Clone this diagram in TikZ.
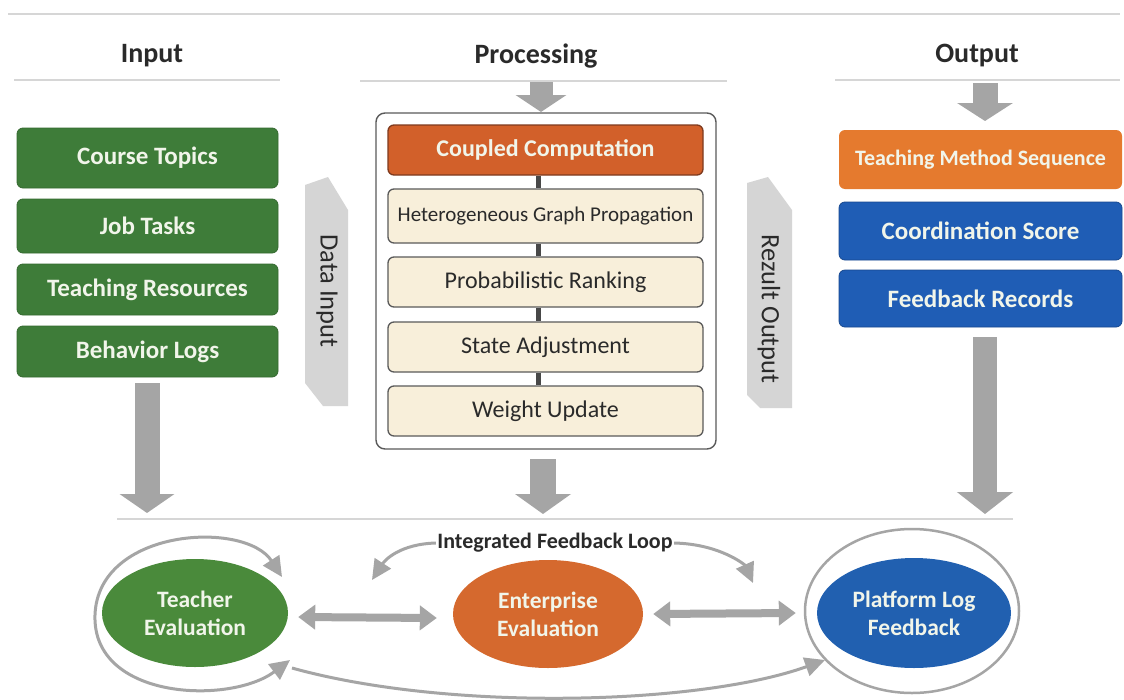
\documentclass[tikz,border=0pt]{standalone}
\usepackage{fontspec}
\setmainfont{Carlito}
\usetikzlibrary{arrows.meta,shapes.geometric}
\definecolor{grnbox}{HTML}{3E7C39}
\definecolor{grnell}{HTML}{4A8A3B}
\definecolor{orgbox}{HTML}{E57A2E}
\definecolor{ccbox}{HTML}{D2602A}
\definecolor{ccline}{HTML}{7E3A1E}
\definecolor{bluebox}{HTML}{1F5DB5}
\definecolor{blueline}{HTML}{17488F}
\definecolor{entell}{HTML}{D5692E}
\definecolor{platell}{HTML}{2160B0}
\definecolor{cream}{HTML}{F8EFDA}
\definecolor{boxline}{HTML}{5A5A5A}
\definecolor{arrowgray}{HTML}{A5A5A5}
\definecolor{bandgray}{HTML}{D5D5D5}
\definecolor{rulegray}{HTML}{D6D6D6}
\definecolor{textdark}{HTML}{2A2A2A}
\definecolor{lighttext}{HTML}{F1F5EA}
\begin{document}
\begin{tikzpicture}[x=1pt,y=-1pt,
  header/.style={font=\bfseries\fontsize{28}{32}\selectfont, text=textdark},
  rule/.style={draw=rulegray, line width=1.3pt},
  greenbox/.style={rounded corners=6pt, fill=grnbox, draw=grnbox!85!black, line width=0.8pt,
     minimum width=261pt, text=lighttext, font=\bfseries\fontsize{25}{29}\selectfont},
  procbox/.style={rounded corners=6pt, fill=cream, draw=boxline, line width=1.3pt,
     minimum width=315pt, minimum height=50pt, text=textdark, font=\fontsize{24}{28}\selectfont},
  outbox/.style={rounded corners=6pt, minimum width=283pt, text=lighttext,
     font=\bfseries\fontsize{25}{29}\selectfont},
  band/.style={fill=bandgray},
  bandtext/.style={rotate=-90, text=textdark, font=\fontsize{26.5}{30}\selectfont},
  link/.style={draw=boxline!80!black, line width=5pt},
  evalell/.style={ellipse, text=lighttext, align=center, font=\bfseries\fontsize{23.5}{28}\selectfont},
  loopline/.style={draw=arrowgray, line width=3pt, -{Triangle[width=19pt,length=20pt]}},
  dblarrow/.style={draw=arrowgray, line width=8pt,
     {Triangle[width=24pt,length=17pt]}-{Triangle[width=24pt,length=17pt]}},
]
% canvas
\useasboundingbox (0,0) rectangle (1124,699);
\fill[white] (0,0) rectangle (1124,699);

% rules
\draw[rule] (8,14) -- (1120,14);
\draw[rule] (14,80) -- (280,80);
\draw[rule] (360,81) -- (727,81);
\draw[rule] (835,80) -- (1120,80);
\draw[rule] (117,519) -- (1013,519);

% headers
\node[header] (hin) at (152,56) {Input};
\node[header] (hproc) at (536,56) {Processing};
\node[header] (hout) at (977,56) {Output};

% input boxes
\node[greenbox, minimum height=60pt] (ct) at (147.5,158) {Course Topics};
\node[greenbox, minimum height=54pt] (jt) at (147.5,226) {Job Tasks};
\node[greenbox, minimum height=51pt] (tr) at (147.5,289.5) {Teaching Resources};
\node[greenbox, minimum height=51pt] (bl) at (147.5,351.5) {Behavior Logs};

% data input band
\fill[band] (305,185) -- (328,177) -- (348,210) -- (348,406) -- (323,406) -- (305,383) -- cycle;
\node[bandtext] (di) at (327,291) {Data Input};

% processing container
\node[draw=boxline, line width=1.4pt, rounded corners=9pt, fill=white,
      minimum width=340pt, minimum height=336pt] (proc) at (546,281) {};
\node[procbox, fill=ccbox, draw=ccline, text=lighttext, font=\bfseries\fontsize{24}{28}\selectfont] (cc) at (545.5,150) {Coupled Computation};
\node[procbox, minimum height=54pt, font=\fontsize{21}{25}\selectfont] (hg) at (545.5,216) {Heterogeneous Graph Propagation};
\node[procbox] (pr) at (545.5,282) {Probabilistic Ranking};
\node[procbox] (sa) at (545.5,347) {State Adjustment};
\node[procbox] (wu) at (545.5,411) {Weight Update};
\draw[link] ([xshift=-7pt]cc.south) -- ([xshift=-7pt]hg.north);
\draw[link] ([xshift=-7pt]hg.south) -- ([xshift=-7pt]pr.north);
\draw[link] ([xshift=-7pt]pr.south) -- ([xshift=-7pt]sa.north);
\draw[link] ([xshift=-7pt]sa.south) -- ([xshift=-7pt]wu.north);

% result output band
\fill[band] (747,183) -- (768,177) -- (792,210) -- (792,408) -- (760,408) -- (747,395) -- cycle;
\node[bandtext] (ro) at (769,309) {Rezult Output};

% output boxes
\node[outbox, fill=orgbox, minimum height=59pt, font=\bfseries\fontsize{22}{26}\selectfont] (tms) at (980.5,159.5) {Teaching Method Sequence};
\node[outbox, fill=bluebox, draw=blueline, line width=0.8pt, minimum height=58pt] (cs) at (980.5,231) {Coordination Score};
\node[outbox, fill=bluebox, draw=blueline, line width=0.8pt, minimum height=57pt] (fr) at (980.5,298.5) {Feedback Records};

% block arrows
\coordinate (pa1) at (541,82);
\coordinate (pa2) at (541,112);
\draw[draw=arrowgray, line width=23pt, -{Triangle[width=50pt,length=17pt]}] (pa1) -- (pa2);
\coordinate (oa1) at (985,83);
\coordinate (oa2) at (985,121);
\draw[draw=arrowgray, line width=25pt, -{Triangle[width=55pt,length=18pt]}] (oa1) -- (oa2);
\coordinate (ia1) at (147,383);
\coordinate (ia2) at (147,513);
\draw[draw=arrowgray, line width=25pt, -{Triangle[width=54pt,length=19pt]}] (ia1) -- (ia2);
\coordinate (ma1) at (543,459);
\coordinate (ma2) at (543,514);
\draw[draw=arrowgray, line width=26pt, -{Triangle[width=55pt,length=20pt]}] (ma1) -- (ma2);
\coordinate (ra1) at (985,337);
\coordinate (ra2) at (985,514);
\draw[draw=arrowgray, line width=24pt, -{Triangle[width=55pt,length=22pt]}] (ra1) -- (ra2);

% evaluation ellipses
\node[evalell, fill=grnell, minimum width=186pt, minimum height=108pt] (te) at (195,613) {Teacher\\Evaluation};
\node[evalell, fill=entell, minimum width=190pt, minimum height=108pt] (ee) at (548,614) {Enterprise\\Evaluation};
\node[evalell, fill=platell, minimum width=194pt, minimum height=110pt] (pl) at (914,613) {Platform Log\\Feedback};
\draw[draw=arrowgray, line width=2.5pt] (912,611) ellipse [x radius=107pt, y radius=82pt];

% feedback loop label
\node[text=textdark, font=\bfseries\fontsize{22}{26}\selectfont] (fl) at (555,543) {Integrated Feedback Loop};
\coordinate (fla) at (372,580);
\coordinate (flb) at (753,583);
\draw[loopline] ([xshift=2pt]fl.west) .. controls (400,544) and (385,560) .. (fla);
\draw[loopline] ([xshift=-2pt]fl.east) .. controls (720,544) and (745,565) .. (flb);

% double arrows
\draw[dblarrow] ([xshift=10pt,yshift=-4pt]te.east) -- ([xshift=-16pt,yshift=-4pt]ee.west);
\draw[dblarrow] ([xshift=10pt]ee.east) -- ([xshift=-21pt]pl.west);

% loop around teacher
\coordinate (tl1) at (290,660);
\coordinate (tl2) at (282,577);
\draw[loopline, {Triangle[width=19pt,length=20pt]}-{Triangle[width=19pt,length=20pt]}]
  (tl1) .. controls (230,705) and (92,700) .. (95,615) .. controls (98,528) and (245,520) .. (tl2);

% long bottom curve
\coordinate (lb1) at (292,668);
\coordinate (lb2) at (825,660);
\draw[loopline] (lb1) .. controls (450,712) and (700,705) .. (lb2);
\end{tikzpicture}
\end{document}
